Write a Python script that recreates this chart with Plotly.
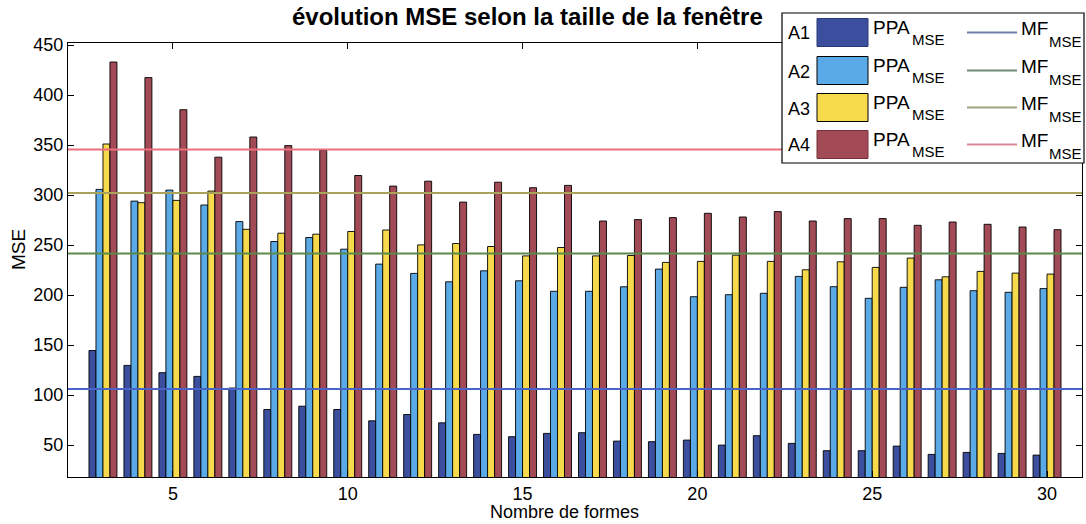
import plotly.graph_objects as go

# ---------------- data ----------------
x_formes = list(range(3, 31))
series_names = ["A1", "A2", "A3", "A4"]

ppa_a1 = [144.5, 129.6, 122.3, 118.6, 107.0, 85.5, 88.8, 85.5, 74.2, 80.5, 72.2, 60.6, 58.3, 61.6,
          62.3, 53.9, 53.3, 54.9, 49.9, 59.3, 51.6, 44.3, 44.3, 48.9, 40.6, 42.6, 41.6, 39.9]
ppa_a2 = [305.6, 293.9, 304.9, 290.0, 273.4, 253.5, 257.5, 245.8, 230.9, 221.6, 213.2, 224.2, 214.2, 203.7,
          203.7, 208.2, 225.9, 198.3, 200.3, 201.7, 218.6, 208.3, 196.7, 207.7, 215.2, 204.3, 202.7, 206.4]
ppa_a3 = [351.0, 292.3, 294.6, 303.9, 265.7, 261.8, 260.8, 263.5, 265.0, 250.1, 251.5, 248.5, 239.1, 247.5,
          239.1, 239.5, 232.6, 233.6, 239.8, 233.6, 225.2, 233.2, 227.6, 236.9, 218.2, 223.6, 221.9, 220.9]
ppa_a4 = [433.0, 417.4, 385.3, 337.8, 358.0, 349.4, 344.7, 319.5, 308.9, 313.8, 292.9, 312.8, 307.3, 309.6,
          274.0, 275.4, 277.4, 281.7, 278.0, 283.4, 274.0, 276.4, 276.4, 269.7, 273.0, 270.7, 268.0, 265.3]
mf_values = [106.0, 241.5, 302.0, 345.5]

x_ticks = [5, 10, 15, 20, 25, 30]
y_ticks = [50, 100, 150, 200, 250, 300, 350, 400, 450]

# ---------------- style ----------------
bar_colors = ["#3b4f9e", "#5aaae8", "#f7d94c", "#a24a55"]
line_colors = ["#4a63c8", "#5b8a4a", "#a8a25a", "#ee6f7f"]
legend_line_colors = ["#6f7ea8", "#6f8a70", "#a2a282", "#d8899a"]
FONT = "Liberation Sans, Arial, sans-serif"

W, H = 1086, 524
L, R, T, B = 68, 1082, 43, 477


def px(xp):
    return (xp - L) / (R - L)


def py(yp):
    return (B - yp) / (B - T)


fig = go.Figure()
ppa = [ppa_a1, ppa_a2, ppa_a3, ppa_a4]
for name, vals, col in zip(series_names, ppa, bar_colors):
    fig.add_trace(go.Bar(x=x_formes, y=vals, name=name + " PPA", marker_color=col,
                         marker_line_color="black", marker_line_width=0.9, showlegend=False))

x_lo, x_hi = 2, 31
for name, v, col in zip(series_names, mf_values, line_colors):
    fig.add_trace(go.Scatter(x=[x_lo, x_hi], y=[v, v], mode="lines", name=name + " MF",
                             line=dict(color=col, width=2), showlegend=False))

# ---------------- manual legend ----------------
shapes = []
annotations = []
shapes.append(dict(type="rect", xref="paper", yref="paper", x0=px(782), x1=px(1084), y0=py(163), y1=py(13),
                   fillcolor="white", line=dict(color="black", width=1.2), layer="above"))
row_centers = [32.5, 70.5, 107.5, 144.5]
patch_border = ["#2a3a7a", "black", "black", "#7a3038"]


def txt(text, xp, yp, size, anchor="left", bold=False):
    return dict(text=("<b>%s</b>" % text) if bold else text, xref="paper", yref="paper",
                x=px(xp), y=py(yp), xanchor=anchor, yanchor="middle", showarrow=False,
                font=dict(family=FONT, size=size, color="black"))


for i, (name, yc) in enumerate(zip(series_names, row_centers)):
    shapes.append(dict(type="rect", xref="paper", yref="paper", x0=px(817), x1=px(868),
                       y0=py(yc + 14), y1=py(yc - 14), fillcolor=bar_colors[i],
                       line=dict(color=patch_border[i], width=1), layer="above"))
    shapes.append(dict(type="line", xref="paper", yref="paper", x0=px(967), x1=px(1017),
                       y0=py(yc), y1=py(yc), line=dict(color=legend_line_colors[i], width=2), layer="above"))
    annotations.append(txt(name, 786, yc + 1, 18))
    annotations.append(txt("PPA", 871, yc - 5, 19))
    annotations.append(txt("MSE", 910, yc + 7, 15))
    annotations.append(txt("MF", 1019, yc - 4, 19))
    annotations.append(txt("MSE", 1047, yc + 9, 15))

annotations.append(txt("évolution MSE selon la taille de la fenêtre", 527, 17, 24, anchor="center", bold=True))
annotations.append(txt("Nombre de formes", 564, 512, 18, anchor="center"))
annotations.append(dict(text="MSE", xref="paper", yref="paper", x=px(18), y=py(250), xanchor="center",
                        yanchor="middle", showarrow=False, textangle=-90,
                        font=dict(family=FONT, size=19, color="black")))

fig.update_layout(
    width=W, height=H,
    margin=dict(l=L, r=W - R, t=T, b=H - B, autoexpand=False),
    paper_bgcolor="white", plot_bgcolor="white",
    barmode="group", bargap=0.2, bargroupgap=0.0,
    shapes=shapes, annotations=annotations,
    font=dict(family=FONT, size=16, color="black"),
    xaxis=dict(range=[x_lo, x_hi], tickvals=x_ticks, ticks="inside", ticklen=6, tickcolor="black",
               showline=True, linecolor="black", linewidth=1.2, mirror="ticks", showgrid=False, zeroline=False,
               automargin=False, tickfont=dict(family=FONT, size=18)),
    yaxis=dict(range=[18, 452], tickvals=y_ticks, ticks="inside", ticklen=6, tickcolor="black",
               showline=True, linecolor="black", linewidth=1.2, mirror="ticks", showgrid=False, zeroline=False,
               automargin=False, tickfont=dict(family=FONT, size=18)),
)

fig.write_html("out.html", config={"displayModeBar": False},
               post_script="document.body.style.margin='0';document.body.style.overflow='hidden';")
